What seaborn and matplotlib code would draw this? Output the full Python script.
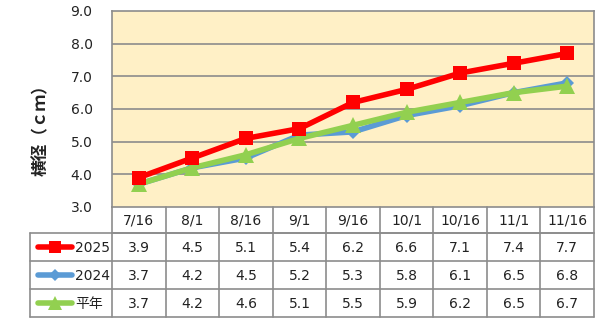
import matplotlib
matplotlib.use("Agg")
import matplotlib.pyplot as plt
import seaborn as sns
import pandas as pd
from matplotlib.lines import Line2D

dates = ["7/16", "8/1", "8/16", "9/1", "9/16", "10/1", "10/16", "11/1", "11/16"]
series_names = ["2025", "2024", "平年"]
v2025 = [3.9, 4.5, 5.1, 5.4, 6.2, 6.6, 7.1, 7.4, 7.7]
v2024 = [3.7, 4.2, 4.5, 5.2, 5.3, 5.8, 6.1, 6.5, 6.8]
vavg = [3.7, 4.2, 4.6, 5.1, 5.5, 5.9, 6.2, 6.5, 6.7]
yticks = [3.0, 4.0, 5.0, 6.0, 7.0, 8.0, 9.0]
ylabel = "横径（ｃｍ）"

sns.set_theme(style="white")
plt.rcParams['font.family'] = ['DejaVu Sans', 'Noto Sans CJK JP']

W, H = 615, 326
fig = plt.figure(figsize=(W/100, H/100), dpi=100)
fig.patch.set_facecolor("white")

# layout in pixels
pl, pr, pt, pb = 112, 594, 11, 207
rows_y = [207, 233, 261, 289, 317]
leg_left = 30

def fx(px): return px / W
def fy(py): return 1 - py / H

ax = fig.add_axes([fx(pl), fy(pb), fx(pr) - fx(pl), fy(pt) - fy(pb)])
ax.set_facecolor("#FFF0C6")

styles = {
    "2025": dict(color="#FF0000", marker="s", ms=10, lw=4),
    "2024": dict(color="#5B9BD5", marker="D", ms=7, lw=4),
    "平年": dict(color="#92D050", marker="^", ms=11, lw=4),
}
data = {"2025": v2025, "2024": v2024, "平年": vavg}
order = ["2024", "平年", "2025"]
for name in order:
    df = pd.DataFrame({"x": range(len(dates)), "y": data[name]})
    st = styles[name]
    sns.lineplot(data=df, x="x", y="y", ax=ax, color=st["color"], lw=st["lw"],
                 marker=st["marker"], markersize=st["ms"], markeredgewidth=0,
                 markeredgecolor=st["color"], legend=False, zorder=3)

ax.set_xlim(-0.5, len(dates) - 0.5)
ax.set_ylim(yticks[0], yticks[-1])
ax.set_yticks(yticks)
ax.set_yticklabels([f"{t:.1f}" for t in yticks], fontsize=10, color="#222222")
ax.tick_params(axis="y", length=0, pad=14)
ax.set_xticks([])
ax.set_xlabel("")
ax.set_ylabel("")
for t in yticks[1:-1]:
    ax.axhline(t, color="#8C8C8C", lw=1.2, zorder=1)
for s in ax.spines.values():
    s.set_color("#8C8C8C")
    s.set_linewidth(1.2)

fig.text(fx(41), fy(126), ylabel, rotation=90, ha="center", va="center",
         fontsize=12, fontweight="bold", family=["Noto Sans CJK JP"], color="#222222")

# table
gc = "#8C8C8C"
lw = 1.2
col_w = (pr - pl) / len(dates)
fig.add_artist(Line2D([fx(pl), fx(pr)], [fy(rows_y[1])]*2, color=gc, lw=lw))
for ry in rows_y[1:]:
    fig.add_artist(Line2D([fx(leg_left), fx(pr)], [fy(ry)]*2, color=gc, lw=lw))
for i in range(len(dates) + 1):
    x = pl + i * col_w
    fig.add_artist(Line2D([fx(x)]*2, [fy(rows_y[0]), fy(rows_y[-1])], color=gc, lw=lw))
fig.add_artist(Line2D([fx(leg_left)]*2, [fy(rows_y[1]), fy(rows_y[-1])], color=gc, lw=lw))

for i, d in enumerate(dates):
    cx = pl + (i + 0.5) * col_w
    fig.text(fx(cx), fy((rows_y[0] + rows_y[1]) / 2 + 1), d, ha="center", va="center",
             fontsize=10, color="#222222")
for r, name in enumerate(series_names):
    cy = (rows_y[r + 1] + rows_y[r + 2]) / 2
    for i, v in enumerate(data[name]):
        cx = pl + (i + 0.5) * col_w
        fig.text(fx(cx), fy(cy + 1), f"{v:.1f}", ha="center", va="center",
                 fontsize=10, color="#222222")
    st = styles[name]
    fig.add_artist(Line2D([fx(38), fx(72)], [fy(cy)]*2, color=st["color"], lw=st["lw"],
                          solid_capstyle="round"))
    fig.add_artist(Line2D([fx(55)], [fy(cy)], color=st["color"], marker=st["marker"],
                          markersize=st["ms"] * 0.9, markeredgewidth=0, lw=0))
    fig.text(fx(75), fy(cy + 1), name, ha="left", va="center", fontsize=10,
             color="#222222", family=["DejaVu Sans", "Noto Sans CJK JP"])

fig.savefig("out.png", dpi=100)
